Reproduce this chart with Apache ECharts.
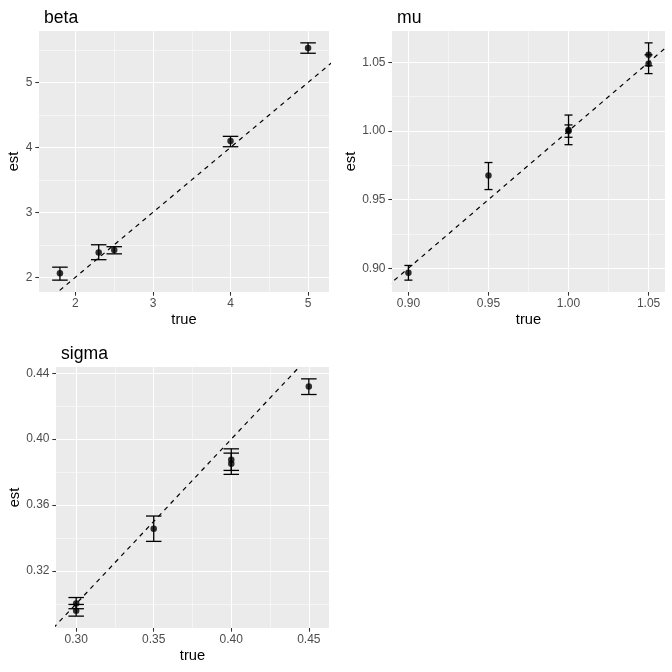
<!DOCTYPE html>
<html lang="en" style="width: 100%; height: 100%">
<head>
  <meta charset="utf-8">
</head>
<body style="width: 672px; height: 672px; margin: 0">
  <div id="container" style="width: 672px; height: 672px"></div>

  <script type="text/javascript" src="https://cdn.jsdelivr.net/npm/echarts@6/dist/echarts.min.js"></script>
  <script type="text/javascript">

// ---- data ----
var betaTrue = [1.8, 2.3, 2.5, 4, 5];
var betaEst  = [2.06, 2.38, 2.42, 4.10, 5.53];
var betaLo   = [1.955, 2.27, 2.36, 4.01, 5.45];
var betaHi   = [2.155, 2.50, 2.47, 4.17, 5.61];

var muTrue = [0.90, 0.95, 1.00, 1.00, 1.05, 1.05];
var muEst  = [0.8966, 0.9675, 1.0000, 1.0007, 1.0556, 1.0490];
var muLo   = [0.8913, 0.9573, 0.9900, 0.9954, 1.0475, 1.0418];
var muHi   = [0.9020, 0.9770, 1.0116, 1.0044, 1.0642, 1.0555];

var sigmaTrue = [0.30, 0.30, 0.35, 0.40, 0.40, 0.45];
var sigmaEst  = [0.3002, 0.2958, 0.3456, 0.3875, 0.3851, 0.4319];
var sigmaLo   = [0.2970, 0.2925, 0.3379, 0.3810, 0.3786, 0.4271];
var sigmaHi   = [0.3038, 0.2996, 0.3533, 0.3941, 0.3915, 0.4366];

var betaXTicks = [2, 3, 4, 5];
var betaXMinor = [2.5, 3.5, 4.5];
var betaYTicks = [2, 3, 4, 5];
var betaYMinor = [2.5, 3.5, 4.5, 5.5];

var muXTicks = [0.90, 0.95, 1.00, 1.05];
var muXMinor = [0.925, 0.975, 1.025];
var muYTicks = [0.90, 0.95, 1.00, 1.05];
var muYMinor = [0.925, 0.975, 1.025];

var sigmaXTicks = [0.30, 0.35, 0.40, 0.45];
var sigmaXMinor = [0.325, 0.375, 0.425];
var sigmaYTicks = [0.32, 0.36, 0.40, 0.44];
var sigmaYMinor = [0.30, 0.34, 0.38, 0.42];

var panelTitles = ['beta', 'mu', 'sigma'];

// ---- layout ----
var FONT = '"Liberation Sans", Arial, Helvetica, sans-serif';

var panels = [
  { title: panelTitles[0], tx: betaTrue, est: betaEst, lo: betaLo, hi: betaHi,
    xt: betaXTicks, xm: betaXMinor, yt: betaYTicks, ym: betaYMinor, dec: 0, capHalf: 0.1,
    grid: { left: 39, top: 31, width: 290, height: 261 }, yGap: 17 },
  { title: panelTitles[1], tx: muTrue, est: muEst, lo: muLo, hi: muHi,
    xt: muXTicks, xm: muXMinor, yt: muYTicks, ym: muYMinor, dec: 2, capHalf: 0.0025,
    grid: { left: 392, top: 31, width: 273, height: 261 }, yGap: 34 },
  { title: panelTitles[2], tx: sigmaTrue, est: sigmaEst, lo: sigmaLo, hi: sigmaHi,
    xt: sigmaXTicks, xm: sigmaXMinor, yt: sigmaYTicks, ym: sigmaYMinor, dec: 2, capHalf: 0.005,
    grid: { left: 56, top: 367, width: 273, height: 261 }, yGap: 34 }
];

// ggplot-like 5% expansion
function expand(a, b) {
  var d = (b - a) * 0.05;
  return [a - d, b + d];
}

var option = {
  animation: false,
  backgroundColor: '#ffffff',
  textStyle: { fontFamily: FONT },
  title: [], grid: [], xAxis: [], yAxis: [], series: []
};

panels.forEach(function (p, i) {
  var xr = expand(Math.min.apply(null, p.tx) - p.capHalf, Math.max.apply(null, p.tx) + p.capHalf);
  var yr = expand(Math.min.apply(null, p.lo), Math.max.apply(null, p.hi));

  option.title.push({
    text: p.title, left: p.grid.left, top: p.grid.top - 27,
    textStyle: { fontFamily: FONT, fontSize: 17.6, fontWeight: 'normal', color: '#000' }
  });

  option.grid.push({
    left: p.grid.left, top: p.grid.top, width: p.grid.width, height: p.grid.height,
    show: true, backgroundColor: '#EBEBEB', borderWidth: 0
  });

  var fmt = function (v) { return v.toFixed(p.dec); };

  // major axes (labels, ticks, major grid)
  option.xAxis.push({
    type: 'value', gridIndex: i, min: xr[0], max: xr[1],
    name: 'true', nameLocation: 'middle', nameGap: 20.5,
    nameTextStyle: { fontFamily: FONT, fontSize: 14.7, color: '#000' },
    axisLine: { show: false },
    axisTick: { show: true, length: 3.7, lineStyle: { color: '#333', width: 1.07 }, customValues: p.xt },
    axisLabel: { customValues: p.xt, formatter: fmt, margin: 5.5, fontFamily: FONT, fontSize: 12, color: '#4D4D4D' },
    splitLine: { show: true, lineStyle: { color: '#fff', width: 1.07 } }
  });
  option.yAxis.push({
    type: 'value', gridIndex: i, min: yr[0], max: yr[1],
    name: 'est', nameLocation: 'middle', nameGap: p.yGap,
    nameTextStyle: { fontFamily: FONT, fontSize: 14.7, color: '#000' },
    axisLine: { show: false },
    axisTick: { show: true, length: 3.7, lineStyle: { color: '#333', width: 1.07 }, customValues: p.yt },
    axisLabel: { customValues: p.yt, formatter: fmt, margin: 6.5, fontFamily: FONT, fontSize: 12, color: '#4D4D4D' },
    splitLine: { show: true, lineStyle: { color: '#fff', width: 1.07 } }
  });
});

// minor grid axes (hidden, only thin split lines)
panels.forEach(function (p, i) {
  var ma = option.xAxis[i], mb = option.yAxis[i];
  option.xAxis.push({
    type: 'value', gridIndex: i, min: ma.min, max: ma.max,
    axisLine: { show: false }, axisLabel: { show: false },
    axisTick: { show: false, customValues: p.xm },
    splitLine: { show: true, lineStyle: { color: '#fff', width: 0.53 } }
  });
  option.yAxis.push({
    type: 'value', gridIndex: i, min: mb.min, max: mb.max,
    axisLine: { show: false }, axisLabel: { show: false },
    axisTick: { show: false, customValues: p.ym },
    splitLine: { show: true, lineStyle: { color: '#fff', width: 0.53 } }
  });
});

panels.forEach(function (p, i) {
  var xr = [option.xAxis[i].min, option.xAxis[i].max];
  var pts = p.tx.map(function (x, k) { return [x, p.est[k], p.lo[k], p.hi[k]]; });

  // y = x reference line, clipped to the panel
  var lo = Math.min(xr[0], option.yAxis[i].min), hi = Math.max(xr[1], option.yAxis[i].max);
  option.series.push({
    type: 'line', xAxisIndex: i, yAxisIndex: i, clip: true,
    data: [[lo, lo], [hi, hi]], symbol: 'none', silent: true,
    lineStyle: { color: '#000', width: 1.2, type: [4.5, 4.5] }, z: 3
  });

  // error bars
  option.series.push({
    type: 'custom', xAxisIndex: i, yAxisIndex: i, data: pts, z: 4,
    renderItem: function (params, api) {
      var x = api.value(0), l = api.value(2), h = api.value(3);
      var top = api.coord([x, h]), bot = api.coord([x, l]);
      var tl = api.coord([x - p.capHalf, h]), tr = api.coord([x + p.capHalf, h]);
      var bl = api.coord([x - p.capHalf, l]), br = api.coord([x + p.capHalf, l]);
      var st = { stroke: '#000', lineWidth: 1.3, fill: null };
      return {
        type: 'group',
        children: [
          { type: 'line', shape: { x1: top[0], y1: top[1], x2: bot[0], y2: bot[1] }, style: st },
          { type: 'line', shape: { x1: tl[0], y1: tl[1], x2: tr[0], y2: tr[1] }, style: st },
          { type: 'line', shape: { x1: bl[0], y1: bl[1], x2: br[0], y2: br[1] }, style: st }
        ]
      };
    }
  });

  // points
  option.series.push({
    type: 'scatter', xAxisIndex: i, yAxisIndex: i, z: 5,
    data: pts.map(function (d) { return [d[0], d[1]]; }),
    symbolSize: 6.5, itemStyle: { color: '#000' }
  });
});

var myChart = echarts.init(document.getElementById('container'), null, { renderer: 'canvas' });
myChart.setOption(option);

  </script>
</body>
</html>
